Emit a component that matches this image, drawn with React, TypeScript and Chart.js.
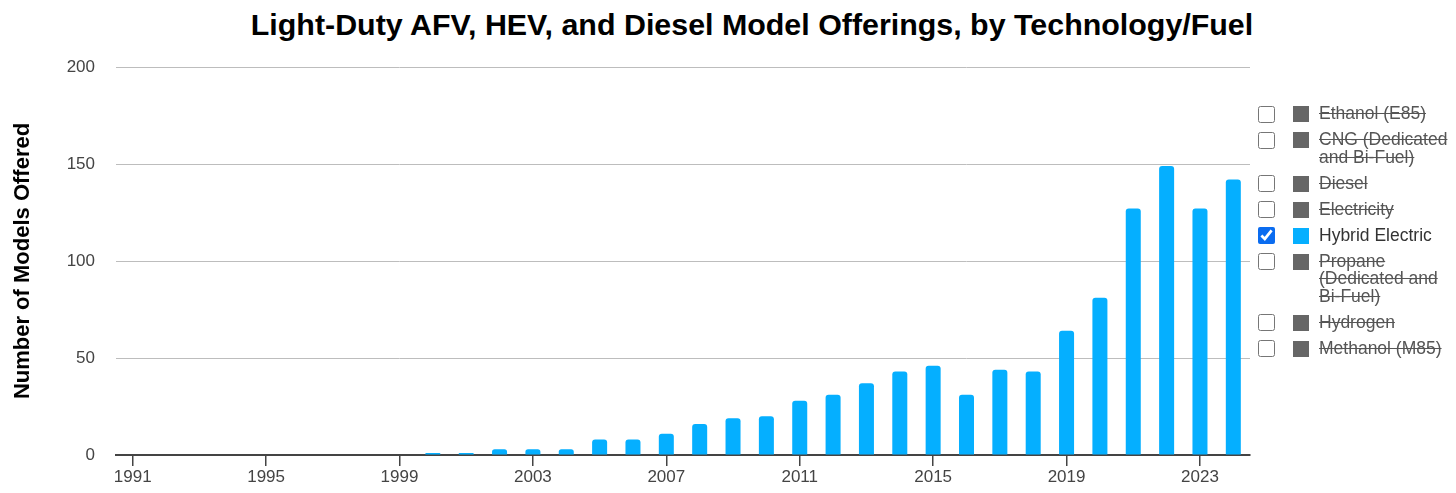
import React, { useEffect, useRef } from "react";
import { Chart, registerables } from "chart.js";

Chart.register(...registerables);

const TITLE = "Light-Duty AFV, HEV, and Diesel Model Offerings, by Technology/Fuel";
const Y_TITLE = "Number of Models Offered";

const years: string[] = [
  "1991", "1992", "1993", "1994", "1995", "1996", "1997", "1998", "1999", "2000",
  "2001", "2002", "2003", "2004", "2005", "2006", "2007", "2008", "2009", "2010",
  "2011", "2012", "2013", "2014", "2015", "2016", "2017", "2018", "2019", "2020",
  "2021", "2022", "2023", "2024",
];

const hybridElectric: number[] = [
  0, 0, 0, 0, 0, 0, 0, 0, 0, 1,
  1, 3, 3, 3, 8, 8, 11, 16, 19, 20,
  28, 31, 37, 43, 46, 31, 44, 43, 64, 81,
  127, 149, 127, 142,
];

const yTicks: number[] = [0, 50, 100, 150, 200];

const legendLabels: string[][] = [
  ["Ethanol (E85)"],
  ["CNG (Dedicated", "and Bi-Fuel)"],
  ["Diesel"],
  ["Electricity"],
  ["Hybrid Electric"],
  ["Propane", "(Dedicated and", "Bi-Fuel)"],
  ["Hydrogen"],
  ["Methanol (M85)"],
];
const legendActive: boolean[] = [false, false, false, false, true, false, false, false];

const BLUE = "#05afff";
const FONT = "'Liberation Sans', Arial, Helvetica, sans-serif";

export default function App() {
  const canvasRef = useRef<HTMLCanvasElement | null>(null);

  useEffect(() => {
    document.body.style.margin = "0";
    const canvas = canvasRef.current;
    if (!canvas) return;
    const chart = new Chart(canvas, {
      type: "bar",
      data: {
        labels: years,
        datasets: [
          {
            label: "Hybrid Electric",
            data: hybridElectric,
            backgroundColor: BLUE,
            borderWidth: 0,
            borderRadius: { topLeft: 3, topRight: 3, bottomLeft: 0, bottomRight: 0 },
            borderSkipped: false,
            categoryPercentage: 1,
            barPercentage: 0.45,
          },
        ],
      },
      options: {
        animation: false,
        responsive: false,
        maintainAspectRatio: false,
        devicePixelRatio: 1,
        layout: { padding: { top: 67, right: 206, left: 0, bottom: 0 } },
        plugins: {
          legend: { display: false },
          tooltip: { enabled: false },
          title: { display: false },
        },
        scales: {
          x: {
            type: "category",
            offset: true,
            afterFit: (scale: any) => {
              scale.height = 38;
            },
            grid: {
              display: true,
              offset: false,
              drawOnChartArea: false,
              drawTicks: true,
              tickLength: 11,
              color: (ctx: any) => (ctx.index % 4 === 0 ? "#444" : "rgba(0,0,0,0)"),
              lineWidth: 1.5,
            },
            border: { display: true, color: "#444", width: 2 },
            ticks: {
              autoSkip: false,
              maxRotation: 0,
              minRotation: 0,
              padding: 1,
              color: "#444",
              font: { family: FONT, size: 17 },
              callback: function (this: any, value: any, index: number) {
                return index % 4 === 0 ? years[index] : "";
              },
            },
          },
          y: {
            min: 0,
            max: 200,
            afterFit: (scale: any) => {
              scale.width = 116;
            },
            afterBuildTicks: (scale: any) => {
              scale.ticks = yTicks.map((v) => ({ value: v }));
            },
            grid: {
              color: "#bdbdbd",
              lineWidth: 1,
              drawTicks: false,
            },
            border: { display: false },
            ticks: {
              padding: 21,
              color: "#444",
              font: { family: FONT, size: 17 },
            },
            title: {
              display: true,
              text: Y_TITLE,
              color: "#000",
              font: { family: FONT, size: 22, weight: "bold" },
              padding: { top: 10, bottom: 4 },
            },
          },
        },
      },
    });
    return () => chart.destroy();
  }, []);

  return (
    <div style={{ position: "relative", width: 1456, height: 493, overflow: "hidden", background: "#fff", fontFamily: FONT }}>
      <div
        style={{
          position: "absolute",
          left: 752,
          top: 6,
          transform: "translateX(-50%)",
          whiteSpace: "nowrap",
          fontSize: 30.4,
          fontWeight: "bold",
          color: "#000",
          lineHeight: "36px",
        }}
      >
        {TITLE}
      </div>
      <canvas ref={canvasRef} width={1456} height={493} style={{ position: "absolute", left: 0, top: 0, width: 1456, height: 493 }} />
      <div style={{ position: "absolute", left: 1258, top: 101, width: 198 }}>
        {legendLabels.map((lines, i) => {
          const active = legendActive[i];
          return (
            <div key={i} style={{ display: "flex", alignItems: "flex-start", padding: "4.25px 0" }}>
              <input
                type="checkbox"
                checked={active}
                readOnly
                style={{
                  width: 17,
                  height: 17,
                  margin: "0.25px 0 0 0",
                  accentColor: "#0a6cf0",
                  flex: "none",
                }}
              />
              <div
                style={{
                  width: 16,
                  height: 16,
                  marginLeft: 18,
                  marginTop: 0.75,
                  background: active ? BLUE : "#666",
                  flex: "none",
                }}
              />
              <div
                style={{
                  marginLeft: 10,
                  fontSize: 17.5,
                  lineHeight: "17.5px",
                  color: active ? "#333" : "#555",
                  textDecoration: active ? "none" : "line-through",
                  whiteSpace: "nowrap",
                }}
              >
                {lines.map((l, j) => (
                  <div key={j}>{l}</div>
                ))}
              </div>
            </div>
          );
        })}
      </div>
    </div>
  );
}
